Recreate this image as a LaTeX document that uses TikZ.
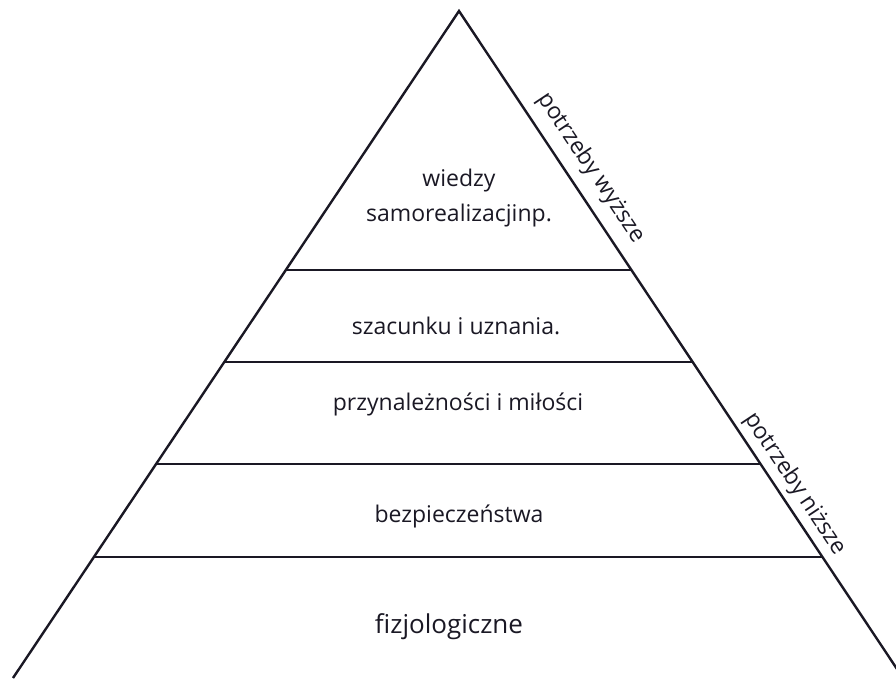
\documentclass[tikz,border=0pt]{standalone}
\usepackage{fontspec}
\setmainfont{Open Sans}
\usetikzlibrary{calc}
\definecolor{ink}{RGB}{26,24,36}

\begin{document}
\begin{tikzpicture}[x=1pt, y=-1pt, line width=2.4pt,
    level/.style={font=\fontsize{23}{35}\selectfont, text=ink, inner sep=0pt},
    side/.style={font=\fontsize{23}{28}\selectfont, text=ink, rotate=-56.35, inner sep=0pt}]
    \useasboundingbox (0, 0) rectangle (896, 678);
    \clip (0, 0) rectangle (896, 678);
    \coordinate (top) at (459, 11);
    \coordinate (bl) at (13, 678);
    \coordinate (br) at (903, 678);
    \draw[ink] (bl) -- (top) -- (br);
    \foreach \t in {0.3883, 0.5262, 0.6792, 0.8186}
      \draw[ink] ($(top)!\t!(bl)$) -- ($(top)!\t!(br)$);
    \node[level, align=center] (wiedzy) at (459, 198) {wiedzy\\samorealizacjinp.};
    \node[level] (szacunek) at (456, 326) {szacunku i uznania.};
    \node[level] (milosc) at (458, 404) {przynależności i miłości};
    \node[level] (bezp) at (459, 516) {bezpieczeństwa};
    \node[level, font=\fontsize{26}{30}\selectfont] (fizjo) at (449, 627) {fizjologiczne};
    \node[side] (wyzsze) at (591, 168) {potrzeby wyższe};
    \node[side] (nizsze) at (795, 484) {potrzeby niższe};
\end{tikzpicture}
\end{document}
